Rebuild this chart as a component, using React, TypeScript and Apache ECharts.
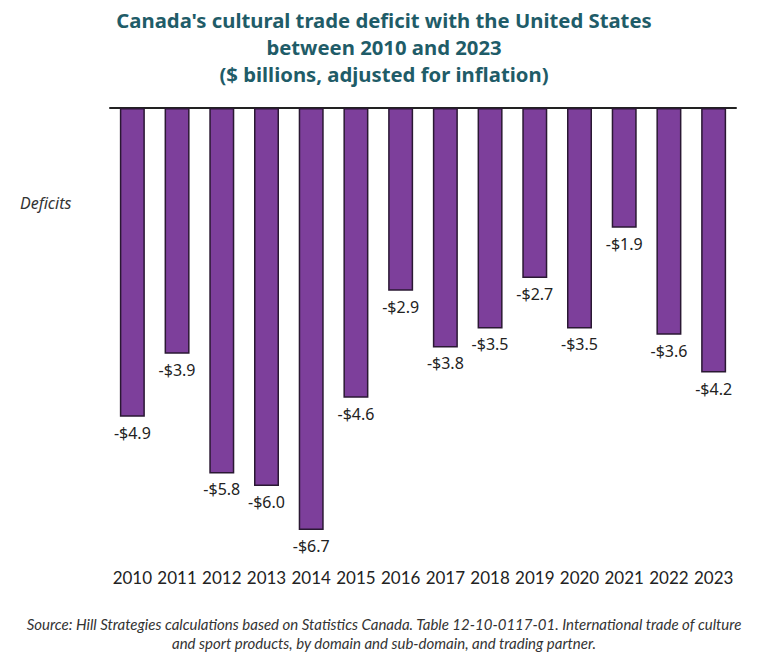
import React, { useEffect, useRef } from "react";
import * as echarts from "echarts";

const years = ["2010", "2011", "2012", "2013", "2014", "2015", "2016", "2017", "2018", "2019", "2020", "2021", "2022", "2023"];
const deficits = [-4.9, -3.9, -5.8, -6.0, -6.7, -4.6, -2.9, -3.8, -3.5, -2.7, -3.5, -1.9, -3.6, -4.2];
const titleLines = [
  "Canada's cultural trade deficit with the United States",
  "between 2010 and 2023",
  "($ billions, adjusted for inflation)",
];
const sourceLines = [
  "Source: Hill Strategies calculations based on Statistics Canada. Table 12-10-0117-01. International trade of culture",
  "and sport products, by domain and sub-domain, and trading partner.",
];

export default function App() {
  const ref = useRef<HTMLDivElement>(null);
  useEffect(() => {
    const chart = echarts.init(ref.current!, null, { renderer: "svg" });
    chart.setOption({
      animation: false,
      backgroundColor: "#ffffff",
      title: {
        text: titleLines.join("\n"),
        left: "center",
        top: 1,
        textStyle: {
          fontFamily: "Noto Sans",
          fontWeight: "bold",
          fontSize: 20.3,
          lineHeight: 27,
          color: "#1f5c68",
        },
      },
      graphic: [
        {
          type: "text",
          left: 20,
          top: 195,
          style: { text: "Deficits", font: "italic 16px 'Noto Sans'", fill: "#333" },
        },
        {
          type: "text",
          left: "center",
          top: 614,
          style: {
            text: sourceLines.join("\n"),
            font: "italic 15px Lato",
            lineHeight: 19,
            fill: "#333",
            textAlign: "center",
          },
        },
      ],
      grid: { left: 110, right: 32, top: 108, bottom: 665 - 566 },
      xAxis: [
        {
          type: "category",
          data: years,
          position: "bottom",
          axisLine: { show: false },
          axisTick: { show: false },
          axisLabel: { interval: 0, fontFamily: "Lato", fontSize: 17, color: "#222", margin: 3 },
        },
        {
          type: "category",
          data: years,
          position: "top",
          axisLine: { show: true, lineStyle: { color: "#222", width: 2 } },
          axisTick: { show: false },
          axisLabel: { show: false },
        },
      ],
      yAxis: {
        type: "value",
        min: -7.27,
        max: 0,
        show: false,
        splitLine: { show: false },
      },
      series: [
        {
          type: "bar",
          data: deficits,
          barWidth: 25,
          itemStyle: { color: "#7d3f9b", borderColor: "#2a1833", borderWidth: 1.5 },
          label: {
            show: true,
            position: "bottom",
            distance: 8,
            fontFamily: "Noto Sans",
            fontSize: 16,
            color: "#222",
            formatter: (p: any) => "-$" + Math.abs(p.value).toFixed(1),
          },
        },
      ],
    });
    return () => chart.dispose();
  }, []);
  return <div ref={ref} style={{ position: "fixed", left: 0, top: 0, width: 768, height: 665 }} />;
}
